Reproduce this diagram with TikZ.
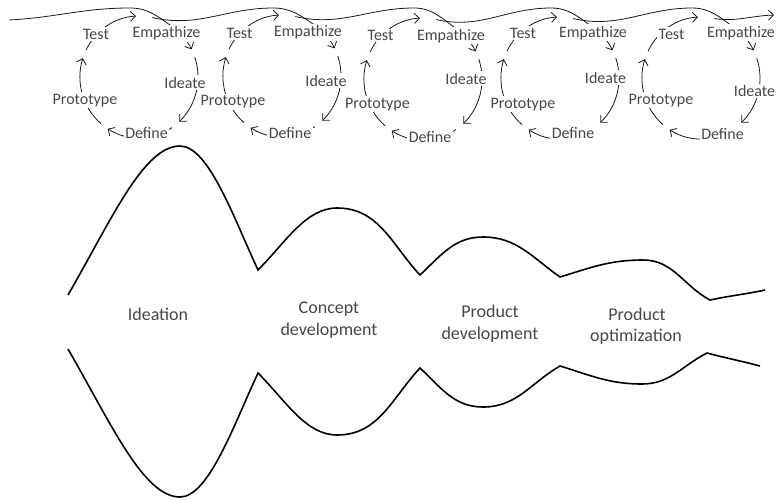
\documentclass[tikz,border=0pt]{standalone}
\usepackage{fontspec}
\setmainfont{Carlito}
\usetikzlibrary{arrows.meta}
\begin{document}
\begin{tikzpicture}[x=1pt,y=1pt,
  coil/.style={line width=0.8pt,draw=black!90},
  arr/.style={-{Straight Barb[length=5pt,width=10pt]}},
  ring/.style={x radius=59pt,y radius=61pt},
  lbl/.style={font=\fontsize{16}{19}\selectfont,text=black!72,fill=white,inner sep=1.5pt,anchor=base},
  stage/.style={font=\fontsize{18}{22}\selectfont,text=black!72,inner sep=0pt,anchor=base},
  wave/.style={line width=1.6pt,draw=black}]
\useasboundingbox (0,0) rectangle (776,-499);

% loop centres
\coordinate (c1) at (139,-77);
\coordinate (c2) at (282,-76);
\coordinate (c3) at (423,-79);
\coordinate (c4) at (560,-78);
\coordinate (c5) at (701,-78);
\foreach \i/\px in {1/130,2/273,3/414,4/551,5/692}{
  \coordinate (ex\i) at ([shift={(77:59pt and 61pt)}]c\i);
  \coordinate (en\i) at ([shift={(55:59pt and 61pt)}]c\i);
  \coordinate (pk\i) at (\px,-8);
}
\coordinate (start) at (9,-20);
\coordinate (finish) at (774,-15);

% strands linking the loops
\draw[coil,arr] (start) to[out=3,in=180] (pk1) to[out=0,in=145] (en1) arc[start angle=55,end angle=27,ring];
\foreach \a/\b in {1/2,2/3,3/4,4/5}{
  \draw[coil,arr] (ex\a) to[out=-13,in=180] (pk\b) to[out=0,in=145] (en\b) arc[start angle=55,end angle=27,ring];
}
\draw[coil,arr] (ex5) to[out=-8,in=182] (finish);

% loops
\foreach \i in {1,...,5}{
  \draw[coil,arr] ([shift={(19:59pt and 61pt)}]c\i) arc[start angle=19,end angle=-47,ring];
  \draw[coil,arr] ([shift={(-56:59pt and 61pt)}]c\i) arc[start angle=-56,end angle=-122,ring];
  \draw[coil,arr] ([shift={(-130:59pt and 61pt)}]c\i) arc[start angle=-130,end angle=-198,ring];
  \draw[coil,arr] ([shift={(154:59pt and 61pt)}]c\i) arc[start angle=154,end angle=93,ring];
}

% loop labels
\node[lbl] (test1) at (96,-39) {Test};
\node[lbl] (emp1) at (166.5,-37.7) {Empathize};
\node[lbl] (ide1) at (185,-88) {Ideate};
\node[lbl] (pro1) at (85,-104) {Prototype};
\node[lbl] (def1) at (146.5,-138) {Define};

\node[lbl] (test2) at (239.5,-38) {Test};
\node[lbl] (emp2) at (308,-36.7) {Empathize};
\node[lbl] (ide2) at (326,-86) {Ideate};
\node[lbl] (pro2) at (233,-105.5) {Prototype};
\node[lbl] (def2) at (290,-138) {Define};

\node[lbl] (test3) at (380.5,-40.5) {Test};
\node[lbl] (emp3) at (451,-40) {Empathize};
\node[lbl] (ide3) at (466,-84) {Ideate};
\node[lbl] (pro3) at (377.5,-108) {Prototype};
\node[lbl] (def3) at (430,-142) {Define};

\node[lbl] (test4) at (523,-38) {Test};
\node[lbl] (emp4) at (593,-37) {Empathize};
\node[lbl] (ide4) at (605.5,-83) {Ideate};
\node[lbl] (pro4) at (523,-108) {Prototype};
\node[lbl] (def4) at (573,-138) {Define};

\node[lbl] (test5) at (671.5,-39) {Test};
\node[lbl] (emp5) at (741,-37) {Empathize};
\node[lbl] (ide5) at (754.5,-96.5) {Ideate};
\node[lbl] (pro5) at (661,-104) {Prototype};
\node[lbl] (def5) at (722.5,-139) {Define};

% funnel outline
\draw[wave] (68,-295) to[out=60,in=180,out looseness=1.2,in looseness=0.5] (180,-146)
 to[out=0,in=115,out looseness=0.5] (258,-270)
 to[out=45,in=180,in looseness=0.8] (337,-208)
 to[out=0,in=133] (420,-275)
 to[out=43,in=180] (483,-237)
 to[out=0,in=145] (560,-277)
 to[out=17,in=180] (643,-260)
 to[out=0,in=152] (710,-300)
 to[out=12,in=192] (765,-290);
\draw[wave] (68,-349) to[out=-60,in=180,out looseness=1.2,in looseness=0.5] (180,-497)
 to[out=0,in=-115,out looseness=0.5] (258,-373)
 to[out=-45,in=180,in looseness=0.8] (337,-435)
 to[out=0,in=-133] (420,-368)
 to[out=-43,in=180] (483,-407)
 to[out=0,in=-150] (560,-366)
 to[out=-17,in=180] (642,-384)
 to[out=0,in=-153] (707,-353)
 to[out=-15,in=165] (760,-366);

% stage labels
\node[stage] (ideation) at (158,-320) {Ideation};
\node[stage] (cd1) at (329,-313) {Concept};
\node[stage] (cd2) at (329,-335) {development};
\node[stage] (pd1) at (490,-317) {Product};
\node[stage] (pd2) at (490,-339) {development};
\node[stage] (po1) at (637,-320) {Product};
\node[stage] (po2) at (636,-341) {optimization};
\end{tikzpicture}
\end{document}
